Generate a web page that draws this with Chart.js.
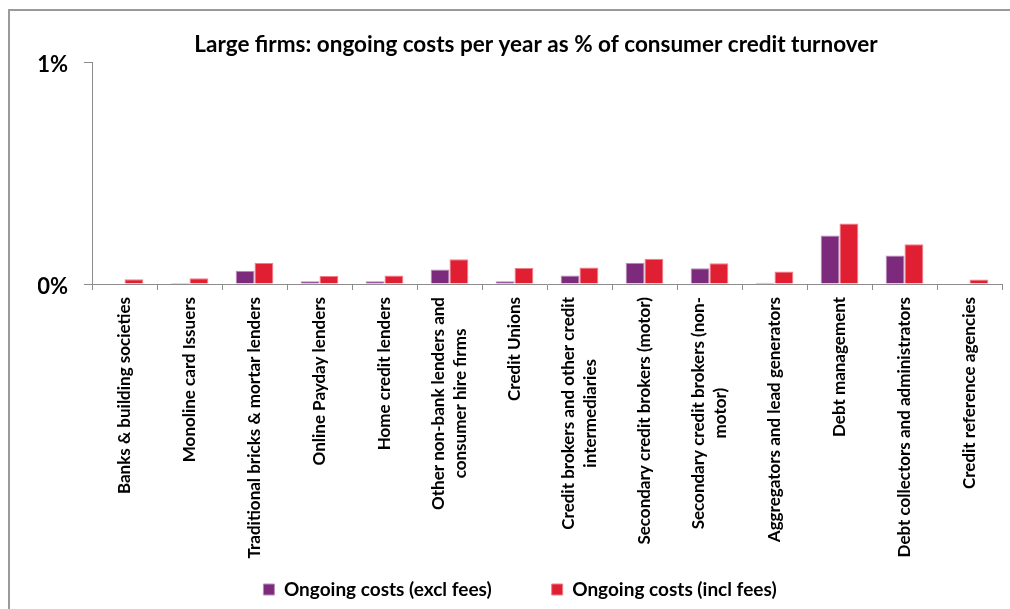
<!DOCTYPE html>
<html lang="en">
<head>
<meta charset="UTF-8">
<title>Large firms: ongoing costs</title>
<script src="https://cdn.jsdelivr.net/npm/chart.js"></script>
<style>
  html, body { margin: 0; padding: 0; background: #fff; }
  #frame { position: absolute; left: 8px; top: 9px; width: 1010px; height: 610px;
           border-top: 2px solid #9a9a9a; border-left: 2px solid #9a9a9a; }
  #wrap { position: absolute; left: 0; top: 0; width: 1010px; height: 609px; }
</style>
</head>
<body>
<div id="frame"></div>
<div id="wrap"><canvas id="costChart"></canvas></div>
<script>
const chartTitle = 'Large firms: ongoing costs per year as % of consumer credit turnover';

const categories = [
  ['Banks & building societies'],
  ['Monoline card Issuers'],
  ['Traditional bricks & mortar lenders'],
  ['Online Payday lenders'],
  ['Home credit lenders'],
  ['Other non-bank lenders and', 'consumer hire firms'],
  ['Credit Unions'],
  ['Credit brokers and other credit', 'intermediaries'],
  ['Secondary credit brokers (motor)'],
  ['Secondary credit brokers (non-', 'motor)'],
  ['Aggregators and lead generators'],
  ['Debt management'],
  ['Debt collectors and administrators'],
  ['Credit reference agencies']
];

// % of turnover
const exclFees = [0, 0.005, 0.060, 0.012, 0.012, 0.065, 0.012, 0.038, 0.096, 0.071, 0.006, 0.218, 0.128, 0];
const inclFees = [0.021, 0.026, 0.095, 0.036, 0.038, 0.111, 0.072, 0.074, 0.114, 0.093, 0.056, 0.273, 0.179, 0.020];

const yMin = 0;
const yMax = 1;
const yStep = 1;

const FONT = 'Lato, "Open Sans", sans-serif';
const axisGrey = '#8c8c8c';

// title drawn by hand so it can sit where Excel put it
const titlePlugin = {
  id: 'excelTitle',
  afterDraw(chart) {
    const ctx = chart.ctx;
    ctx.save();
    ctx.font = 'bold 22.5px ' + FONT;
    ctx.fillStyle = '#000';
    ctx.textAlign = 'center';
    ctx.textBaseline = 'middle';
    ctx.fillText(chartTitle, 536, 45);
    ctx.restore();
  }
};

// rotated category labels, with the wrapped lines centred on each other
const catLabelPlugin = {
  id: 'catLabels',
  afterDraw(chart) {
    const ctx = chart.ctx;
    const xs = chart.scales.x;
    const top = xs.top + 13;
    const lh = 22;
    ctx.save();
    ctx.font = 'bold 17px ' + FONT;
    ctx.fillStyle = '#000';
    ctx.textAlign = 'center';
    ctx.textBaseline = 'middle';
    chart.data.labels.forEach((lines, i) => {
      const x = xs.getPixelForValue(i);
      const w = Math.max(...lines.map(l => ctx.measureText(l).width));
      ctx.save();
      ctx.translate(x, top);
      ctx.rotate(-Math.PI / 2);
      lines.forEach((l, j) => {
        ctx.fillText(l, -w / 2, (j - (lines.length - 1) / 2) * lh);
      });
      ctx.restore();
    });
    ctx.restore();
  }
};

const ctx = document.getElementById('costChart').getContext('2d');
new Chart(ctx, {
  type: 'bar',
  data: {
    labels: categories,
    datasets: [
      {
        label: 'Ongoing costs (excl fees)',
        data: exclFees,
        backgroundColor: '#7b2a7c',
        borderColor: '#b98db9',
        borderWidth: 1,
        borderSkipped: 'bottom'
      },
      {
        label: 'Ongoing costs (incl fees)',
        data: inclFees,
        backgroundColor: '#e11f32',
        borderColor: '#ee7f8a',
        borderWidth: 1,
        borderSkipped: 'bottom'
      }
    ]
  },
  options: {
    responsive: true,
    maintainAspectRatio: false,
    animation: false,
    layout: { padding: { left: 38, right: 8, top: 62, bottom: 0 } },
    datasets: { bar: { categoryPercentage: 0.58, barPercentage: 1 } },
    plugins: {
      title: { display: false },
      tooltip: { enabled: false },
      legend: {
        position: 'bottom',
        labels: {
          boxWidth: 11,
          boxHeight: 11,
          padding: 60,
          color: '#000',
          font: { family: FONT, size: 19, weight: 'bold' }
        }
      }
    },
    scales: {
      x: {
        type: 'category',
        offset: true,
        grid: { display: true, drawOnChartArea: false, drawTicks: true, tickLength: 6, color: axisGrey, offset: true },
        border: { display: true, color: axisGrey, width: 1 },
        ticks: { display: false },
        afterFit(s) { s.height = 236; }
      },
      y: {
        min: yMin,
        max: yMax,
        grid: { display: true, drawOnChartArea: false, drawTicks: true, tickLength: 8, color: axisGrey },
        border: { display: true, color: axisGrey, width: 1 },
        ticks: {
          stepSize: yStep,
          padding: 16,
          labelOffset: 3,
          color: '#000',
          font: { family: FONT, size: 22, weight: 'bold' },
          callback: v => v + '%'
        },
        afterFit(s) { s.width = 54; }
      }
    }
  },
  plugins: [titlePlugin, catLabelPlugin]
});
</script>
</body>
</html>
